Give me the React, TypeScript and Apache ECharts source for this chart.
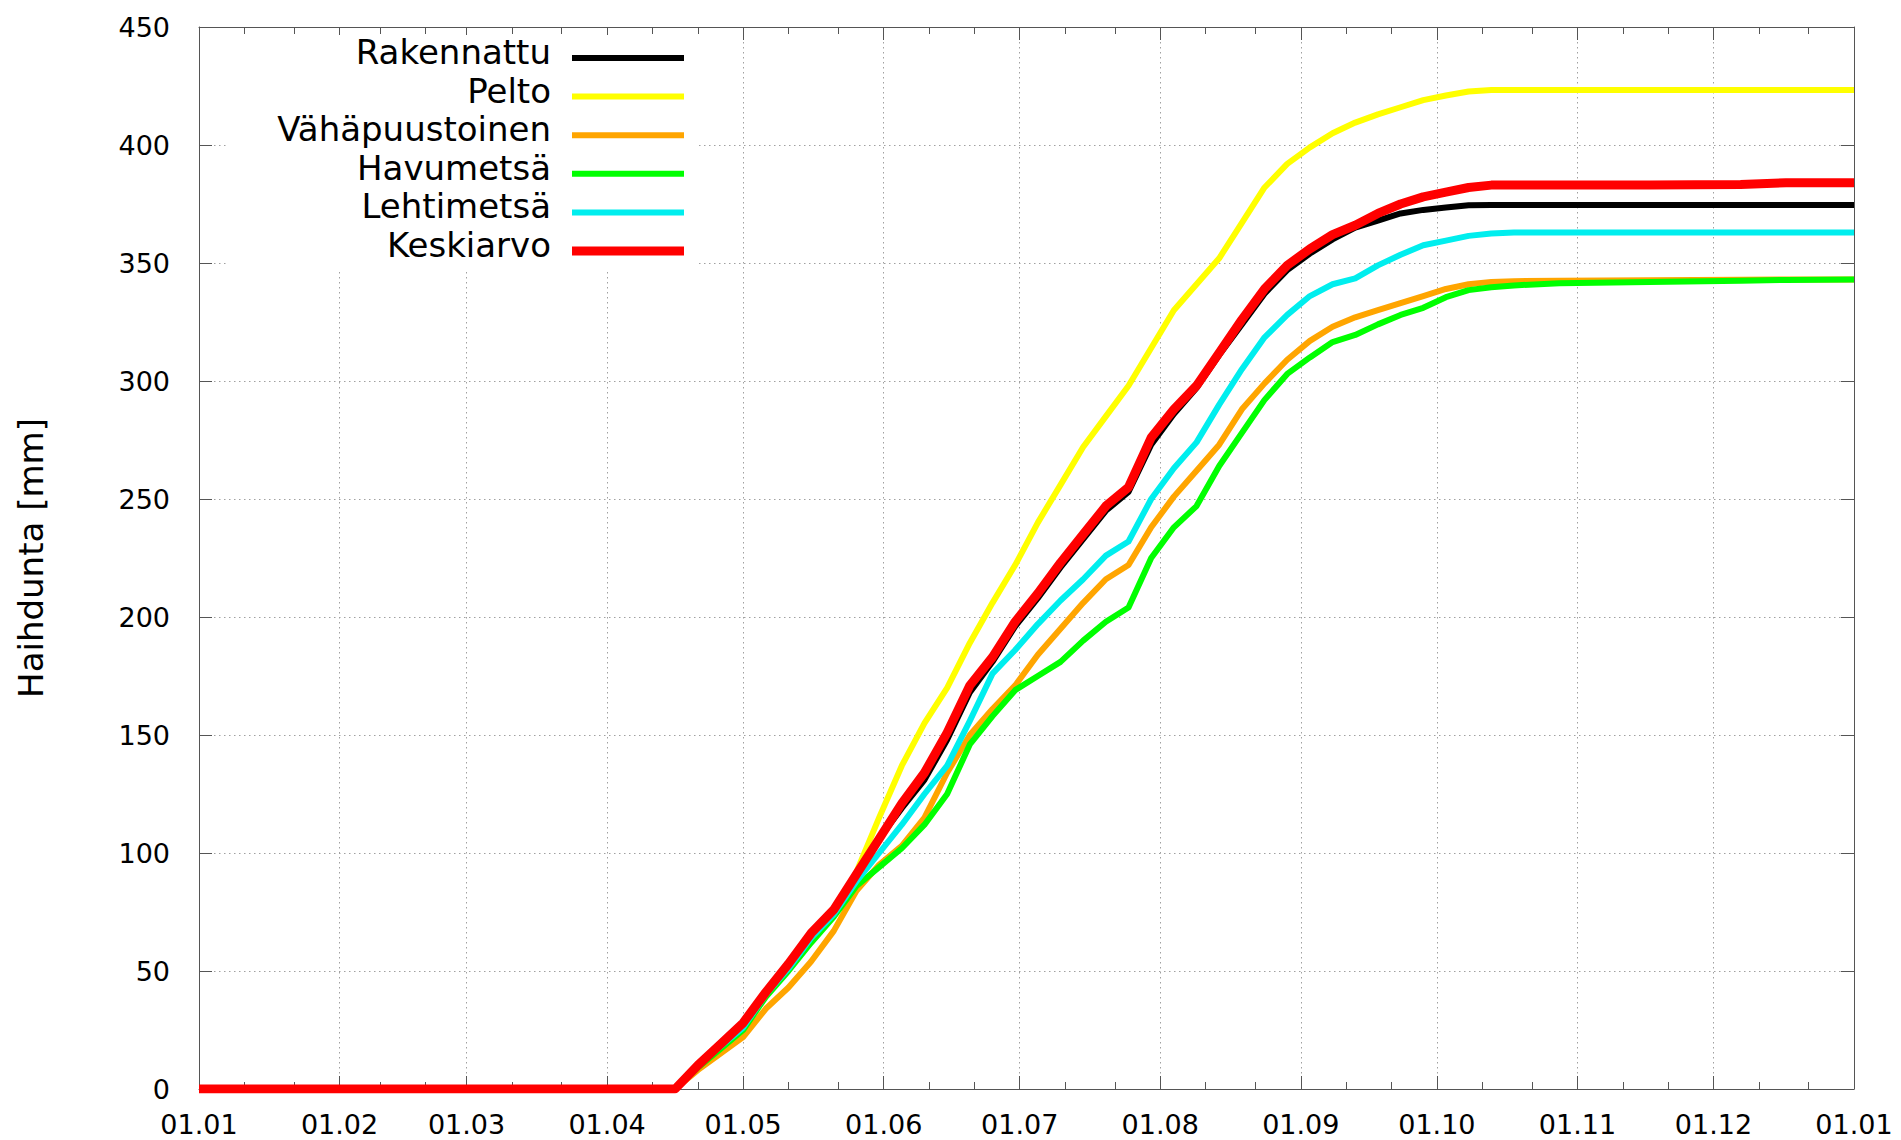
import React, { useEffect, useRef } from "react";
import * as echarts from "echarts";

// ---------- data ----------
const seriesNames = ["Rakennattu", "Pelto", "Vähäpuustoinen", "Havumetsä", "Lehtimetsä", "Keskiarvo"];
const seriesColors = ["#000000", "#ffff00", "#ffa500", "#00ff00", "#00eeee", "#ff0000"];
const seriesWidths = [6, 6, 6, 6, 6, 9];

// day of year (0 = 01.01)
const sampleDays = [0, 105, 110, 115, 120, 125, 130, 135, 140, 145, 150, 155, 160, 165, 170, 175, 180, 185, 190, 195, 200, 205, 210, 215, 220, 225, 230, 235, 240, 245, 250, 255, 260, 265, 270, 275, 280, 285, 290, 300, 320, 340, 350, 365];

const rakennattu = [0, 0, 10, 19, 28, 41, 53, 66, 76, 91, 106, 119, 131, 148, 168, 181, 196, 208, 221, 233, 245, 253, 273, 286, 297, 311, 324, 337, 347, 354, 360, 365, 368, 371, 372.5, 373.5, 374.5, 374.6, 374.6, 374.6, 374.6, 374.6, 374.6, 374.6];
const pelto = [0, 0, 9, 18, 27, 40, 52, 65, 75, 92, 115, 137, 155, 170, 189, 206, 222, 240, 256, 272, 285, 298, 314, 330, 341, 352, 367, 382, 392, 399, 405, 409.5, 413, 416, 419, 421, 422.7, 423.3, 423.3, 423.3, 423.3, 423.3, 423.3, 423.3];
const vahapuustoinen = [0, 0, 8, 15, 22, 34, 43, 54, 67, 84, 95, 103, 115, 134, 150, 161, 171, 184, 195, 206, 216, 222, 238, 251, 262, 273, 288, 299, 309, 317, 323, 327, 330, 333, 336, 339, 341, 342, 342.3, 342.5, 342.7, 342.9, 343, 343];
const havumetsa = [0, 0, 9, 17, 25, 39, 50, 62, 73, 86, 94, 102, 112, 125, 146, 158, 169, 175, 181, 190, 198, 204, 225, 238, 247, 264, 278, 292, 303, 310, 316.5, 319.5, 324, 328, 331, 335.5, 338.5, 339.7, 340.5, 341.4, 342, 342.5, 342.8, 343];
const lehtimetsa = [0, 0, 10, 18, 26, 40, 51, 64, 74, 88, 100, 112, 125, 137, 156, 176, 186, 197, 207, 216, 226, 232, 250, 263, 274, 290, 305, 318.5, 328, 336, 341, 343.5, 349, 353.5, 357.5, 359.5, 361.5, 362.5, 362.9, 362.9, 362.9, 362.9, 362.9, 362.9];
const keskiarvo = [0, 0, 10, 19, 28, 41, 53, 66, 76, 91, 106, 121, 134, 151, 171, 183, 198, 210, 223, 235, 247, 255, 276, 288, 298, 312, 326, 339, 349, 356, 362, 366, 371, 375, 378, 380, 382, 383, 383, 383, 383, 383.3, 384, 384];

const seriesValues = [rakennattu, pelto, vahapuustoinen, havumetsa, lehtimetsa, keskiarvo];

const yMin = 0;
const yMax = 450;
const yInterval = 50;
const yTitle = "Haihdunta [mm]";

// ---------- axis categories: every day of the year ----------
const YEAR = 2023;
const dayCategories: string[] = [];
for (let i = 0; i <= 365; i++) {
  dayCategories.push(new Date(Date.UTC(YEAR, 0, 1 + i)).toISOString().slice(0, 10));
}
const isMonthStart = (idx: number) => !!dayCategories[idx] && dayCategories[idx].slice(8, 10) === "01";
const isMinorTick = (idx: number) => {
  const s = dayCategories[idx];
  if (!s) return false;
  const y = +s.slice(0, 4);
  const m = +s.slice(5, 7);
  const dom = +s.slice(8, 10);
  const len = new Date(Date.UTC(y, m, 0)).getUTCDate();
  return dom === Math.round(len / 3) + 1 || dom === Math.round((2 * len) / 3) + 1;
};
const fmtDay = (v: string) => `${v.slice(8, 10)}.${v.slice(5, 7)}`;

const FONT = "DejaVu Sans";
const AXIS_COLOR = "#555555";
const GRID_COLOR = "#a0a0a0";

// legend sample: a bar of the series' line width, drawn a little below the text centre
const ICON_W = 112;
const ICON_H = 30;
const ICON_CY = 21;
const legendIcon = (w: number) => {
  const a = ICON_CY - w / 2;
  const b = ICON_CY + w / 2;
  return `path://M0,0M${ICON_W},${ICON_H}M0,${a}L${ICON_W},${a}L${ICON_W},${b}L0,${b}Z`;
};

export default function App() {
  const ref = useRef<HTMLDivElement>(null);

  useEffect(() => {
    if (!ref.current) return;
    const chart = echarts.init(ref.current, undefined, { renderer: "svg" });

    const baseX = {
      type: "category" as const,
      data: dayCategories,
      boundaryGap: false,
      gridIndex: 0,
    };

    const option: any = {
      animation: false,
      backgroundColor: "#ffffff",
      textStyle: { fontFamily: FONT },
      grid: { left: 199, right: 47, top: 27, bottom: 51, containLabel: false },
      legend: {
        orient: "vertical",
        right: 1205,
        top: 35,
        align: "right",
        padding: [0, 12, 7, 50],
        backgroundColor: "#ffffff",
        itemWidth: ICON_W,
        itemHeight: ICON_H,
        itemGap: 4.6,
        symbolKeepAspect: false,
        selectedMode: false,
        itemStyle: { borderWidth: 0 },
        textStyle: { fontSize: 34, color: "#000000", fontFamily: FONT, padding: [0, 16, 0, 0] },
        data: seriesNames.map((n, i) => ({ name: n, icon: legendIcon(seriesWidths[i]) })),
      },
      xAxis: [
        {
          ...baseX,
          position: "bottom",
          axisLine: { show: true, onZero: false, lineStyle: { color: AXIS_COLOR, width: 1 } },
          axisTick: { show: true, inside: true, length: 13, interval: (i: number) => isMonthStart(i), lineStyle: { color: AXIS_COLOR } },
          axisLabel: {
            show: true,
            interval: (i: number) => isMonthStart(i),
            formatter: (v: string) => fmtDay(v),
            fontSize: 27,
            color: "#000000",
            fontFamily: FONT,
            margin: 22,
          },
          splitLine: { show: true, interval: (i: number) => isMonthStart(i), lineStyle: { color: GRID_COLOR, type: [1.5, 3.5], width: 1 } },
        },
        {
          ...baseX,
          position: "top",
          axisLine: { show: true, onZero: false, lineStyle: { color: AXIS_COLOR, width: 1 } },
          axisTick: { show: true, inside: true, length: 13, interval: (i: number) => isMonthStart(i), lineStyle: { color: AXIS_COLOR } },
          axisLabel: { show: false },
          splitLine: { show: false },
        },
        {
          ...baseX,
          position: "bottom",
          axisLine: { show: false, onZero: false },
          axisTick: { show: true, inside: true, length: 7, interval: (i: number) => isMinorTick(i), lineStyle: { color: AXIS_COLOR } },
          axisLabel: { show: false },
          splitLine: { show: false },
        },
        {
          ...baseX,
          position: "top",
          axisLine: { show: false, onZero: false },
          axisTick: { show: true, inside: true, length: 7, interval: (i: number) => isMinorTick(i), lineStyle: { color: AXIS_COLOR } },
          axisLabel: { show: false },
          splitLine: { show: false },
        },
      ],
      yAxis: [
        {
          type: "value",
          position: "left",
          min: yMin,
          max: yMax,
          interval: yInterval,
          name: yTitle,
          nameLocation: "middle",
          nameGap: 151,
          nameTextStyle: { fontSize: 34, color: "#000000", fontFamily: FONT },
          axisLine: { show: true, onZero: false, lineStyle: { color: AXIS_COLOR, width: 1 } },
          axisTick: { show: true, inside: true, length: 13, lineStyle: { color: AXIS_COLOR } },
          axisLabel: { fontSize: 27, color: "#000000", fontFamily: FONT, margin: 29 },
          splitLine: { show: true, lineStyle: { color: GRID_COLOR, type: [1.5, 3.5], width: 1 } },
        },
        {
          type: "value",
          position: "right",
          min: yMin,
          max: yMax,
          interval: yInterval,
          axisLine: { show: true, onZero: false, lineStyle: { color: AXIS_COLOR, width: 1 } },
          axisTick: { show: true, inside: true, length: 13, lineStyle: { color: AXIS_COLOR } },
          axisLabel: { show: false },
          splitLine: { show: false },
        },
      ],
      series: seriesNames.map((name, si) => ({
        name,
        type: "line",
        xAxisIndex: 0,
        yAxisIndex: 0,
        data: sampleDays.map((d, k) => [d, seriesValues[si][k]]),
        showSymbol: false,
        symbol: "none",
        silent: true,
        color: seriesColors[si],
        lineStyle: { color: seriesColors[si], width: seriesWidths[si], join: "round" },
        itemStyle: { color: seriesColors[si] },
        emphasis: { disabled: true },
        z: 2 + si,
      })),
    };

    chart.setOption(option);
    return () => chart.dispose();
  }, []);

  return (
    <div
      ref={ref}
      style={{ position: "fixed", left: 0, top: 0, width: 1901, height: 1140, background: "#fff" }}
    />
  );
}
